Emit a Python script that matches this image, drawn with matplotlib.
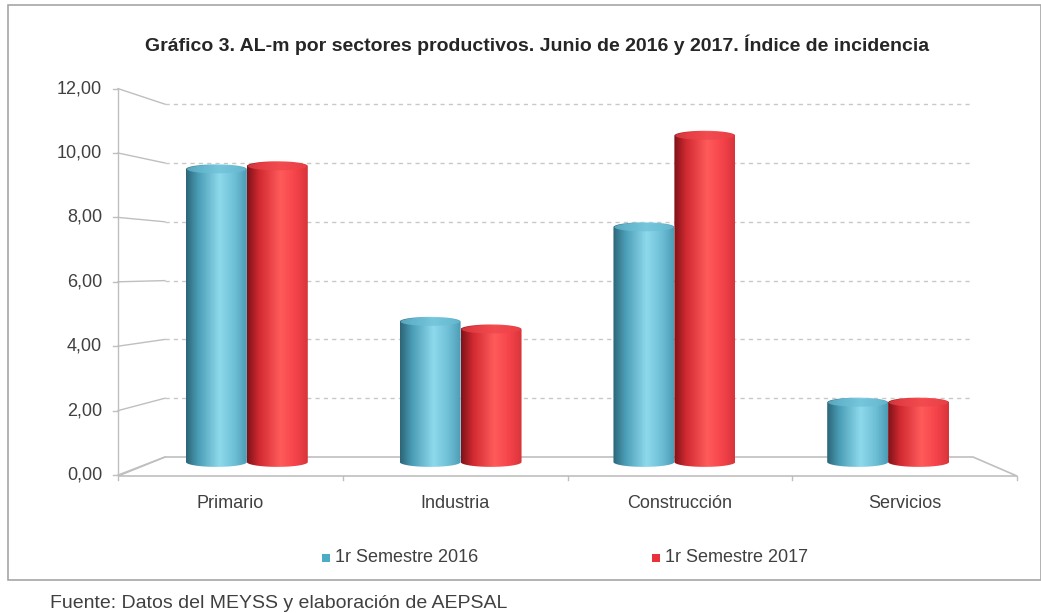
import numpy as np
import matplotlib
matplotlib.use("Agg")
import matplotlib.pyplot as plt
from matplotlib.path import Path
from matplotlib.patches import PathPatch, Polygon, Rectangle
from matplotlib.colors import LinearSegmentedColormap

plt.rcParams["font.family"] = ["Liberation Sans", "DejaVu Sans"]

# data
sectores = ["Primario", "Industria", "Construcción", "Servicios"]
sem_2016 = [9.6, 4.6, 7.7, 1.95]
sem_2017 = [9.7, 4.35, 10.7, 1.95]
series_names = ["1r Semestre 2016", "1r Semestre 2017"]
y_ticks = [0, 2, 4, 6, 8, 10, 12]
y_labels = ["0,00", "2,00", "4,00", "6,00", "8,00", "10,00", "12,00"]

W, H = 1041, 613
fig = plt.figure(figsize=(W / 100, H / 100), dpi=100)
fig.patch.set_facecolor("white")

# overlay in pixel coordinates for frame, walls and axis
bg = fig.add_axes([0, 0, 1, 1])
bg.set_xlim(0, W)
bg.set_ylim(H, 0)
bg.axis("off")

grid_c = "#BFBFBF"
text_c = "#404040"

# chart frame
bg.add_patch(Rectangle((8, 5), W - 8, 575, fill=False, ec="#A6A6A6", lw=1.2))

# back wall gridlines + perspective leaders from the front axis
front_x, back_x0, back_x1, right_x = 118, 165, 973, 1017
for v, lab in zip(y_ticks, y_labels):
    yf = 475 - 32.2 * v
    yb = 457 - 29.4 * v
    bg.plot([front_x, back_x0], [yf, yb], color=grid_c, lw=1)
    if v > 0:
        bg.plot([back_x0, back_x1], [yb, yb], color="#C8C8C8", lw=1,
                ls=(0, (3, 3)))
    bg.plot([front_x - 5, front_x], [yf, yf], color=grid_c, lw=1)
    bg.text(102, yf, lab, ha="right", va="center", fontsize=13, color=text_c)

# vertical front axis
bg.plot([front_x, front_x], [475 - 32.2 * 12, 475], color=grid_c, lw=1)

# floor
floor = Polygon([[front_x, 476], [back_x0, 457], [back_x1, 457], [right_x, 476]],
                closed=True, fc="white", ec=grid_c, lw=1.2)
bg.add_patch(floor)
for k in range(5):
    xk = front_x + (right_x - front_x) / 4 * k
    bg.plot([xk, xk], [476, 480], color=grid_c, lw=1)

# category labels on the front edge
for k, s in enumerate(sectores):
    xk = front_x + (right_x - front_x) / 4 * (k + 0.5)
    bg.text(xk, 503, s, ha="center", va="center", fontsize=13, color=text_c)

# title
bg.text(537, 45, "Gráfico 3. AL-m por sectores productivos. Junio de 2016 y 2017. Índice de incidencia",
        ha="center", va="center", fontsize=14, fontweight="bold", color="#262626")

# source
bg.text(50, 603, "Fuente: Datos del MEYSS y elaboración de AEPSAL",
        ha="left", va="center", fontsize=14, color="#404040")

# bars axes (values -> pixels through the axes scale)
x0_px, x1_px = 140, 995
ppu = 30.5
ax = fig.add_axes([x0_px / W, (H - 462 - 0.5 * ppu) / H, (x1_px - x0_px) / W, 13 * ppu / H])
ax.axis("off")
ax.patch.set_alpha(0)

blue_cm = LinearSegmentedColormap.from_list(
    "b", [(0, "#2C6577"), (0.2, "#4A9DB6"), (0.55, "#8ED9EC"), (0.8, "#6DBFD6"), (1, "#4C9CB5")])
red_cm = LinearSegmentedColormap.from_list(
    "r", [(0, "#7E1218"), (0.2, "#D12A31"), (0.55, "#FF5B5B"), (0.8, "#F4434A"), (1, "#D8343A")])
top_c = ["#6CBED5", "#EC454B"]

x = np.arange(len(sectores))
bw = 0.285
ry = 0.16
for j, (vals, cm) in enumerate([(sem_2016, blue_cm), (sem_2017, red_cm)]):
    bars = ax.bar(x + (j - 0.5) * bw, vals, bw, color="none", ec="none")
    for b in bars:
        bx, bwid, h = b.get_x(), b.get_width(), b.get_height()
        cx = bx + bwid / 2
        t = np.linspace(np.pi, 2 * np.pi, 40)
        bottom = np.column_stack([cx + bwid / 2 * np.cos(t), ry * np.sin(t)])
        t2 = np.linspace(0, np.pi, 40)
        top = np.column_stack([cx + bwid / 2 * np.cos(t2), h + ry * np.sin(t2)])
        verts = np.vstack([bottom, top, bottom[:1]])
        clip = PathPatch(Path(verts), fc="none", ec="none", transform=ax.transData)
        ax.add_patch(clip)
        grad = np.linspace(0, 1, 256)[None, :]
        im = ax.imshow(grad, cmap=cm, aspect="auto",
                       extent=[bx, bx + bwid, -ry, h + ry], zorder=2 + j)
        im.set_clip_path(clip)
        tt = np.linspace(0, 2 * np.pi, 80)
        cap = np.column_stack([cx + bwid / 2 * 0.97 * np.cos(tt), h + ry * 0.85 * np.sin(tt)])
        ax.add_patch(Polygon(cap, closed=True, fc=top_c[j], ec="none", alpha=0.7,
                             zorder=2.5 + j))
ax.set_xlim(-0.5, 3.5)
ax.set_ylim(-0.5, 12.5)

# legend
for k, (name, c) in enumerate(zip(series_names, ["#4BACC6", "#E8323A"])):
    lx = 326 + 330 * k
    bg.add_patch(Rectangle((lx - 4, 554), 8, 8, fc=c, ec="none"))
    bg.text(lx + 9, 558, name, ha="left", va="center", fontsize=13, color=text_c)

fig.savefig("out.png", dpi=100)
